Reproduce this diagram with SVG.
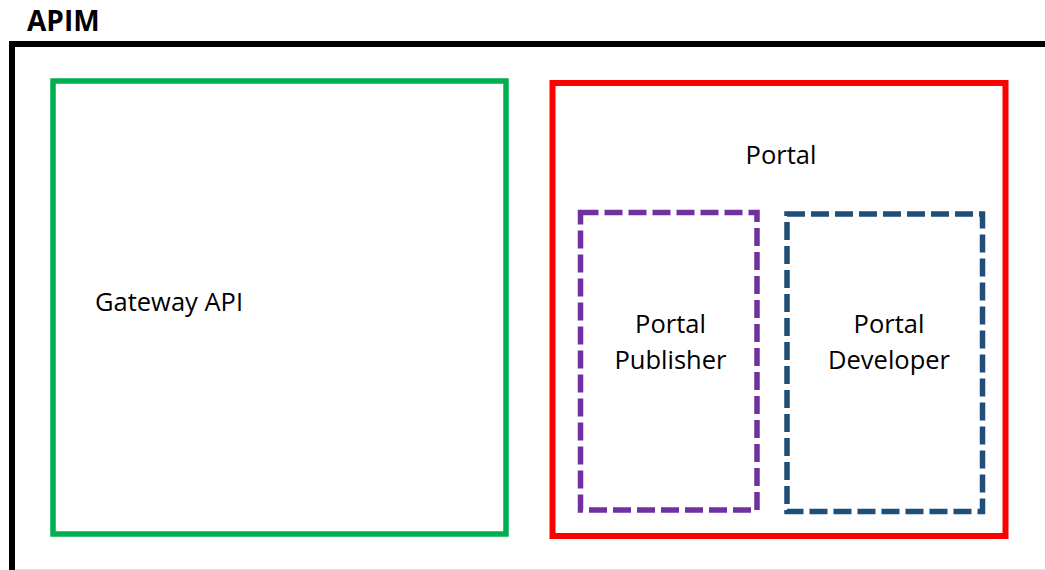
<svg xmlns="http://www.w3.org/2000/svg" width="1045" height="570" viewBox="0 0 1045 570">
  <style>
    .lbl { font-family: "Open Sans", "Noto Sans", "Liberation Sans", sans-serif; font-size: 25.5px; fill: #000; }
    .title { font-family: "Open Sans", "Noto Sans", "Liberation Sans", sans-serif; font-size: 28px; font-weight: bold; fill: #000; }
    .dash { fill: none; stroke-width: 5.5; stroke-dasharray: 18 6; }
  </style>
  <rect x="0" y="0" width="1045" height="570" fill="#ffffff"/>
  <g id="apim">
    <path d="M12,572 V44 H1047" fill="none" stroke="#000000" stroke-width="6"/>
    <line x1="15" y1="569.5" x2="1045" y2="569.5" stroke="#e3e3e3" stroke-width="1"/>
    <text class="title" x="27" y="30.5">APIM</text>
  </g>
  <g id="gateway">
    <rect x="53" y="81" width="453" height="453" fill="none" stroke="#00b050" stroke-width="5.5"/>
    <text class="lbl" x="95" y="311">Gateway API</text>
  </g>
  <g id="portal">
    <rect x="552.5" y="83" width="453" height="453" fill="none" stroke="#ff0000" stroke-width="6"/>
    <text class="lbl" x="781" y="164" text-anchor="middle">Portal</text>
  </g>
  <g id="portal-publisher">
    <rect class="dash" x="580.5" y="212.5" width="176.5" height="297.5" stroke="#7030a0"/>
    <text class="lbl" x="670.5" y="333" text-anchor="middle">Portal</text>
    <text class="lbl" x="670.5" y="369" text-anchor="middle">Publisher</text>
  </g>
  <g id="portal-developer">
    <rect class="dash" x="787" y="214" width="195.5" height="297.5" stroke="#1f4e79"/>
    <text class="lbl" x="889" y="333" text-anchor="middle">Portal</text>
    <text class="lbl" x="889" y="369" text-anchor="middle">Developer</text>
  </g>
  <g id="connectors"></g>
</svg>
